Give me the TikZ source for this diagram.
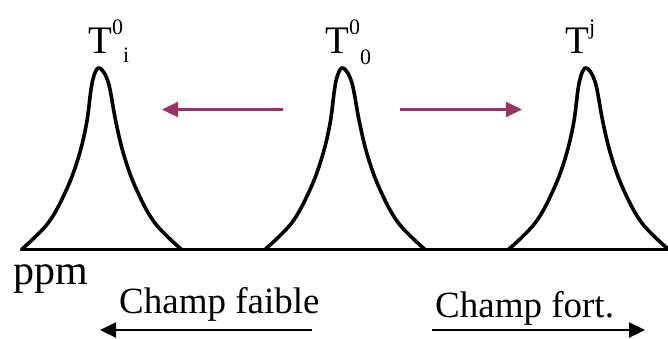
\documentclass[tikz,border=0pt]{standalone}
\usepackage{fontspec}
\setmainfont{Liberation Serif}
\usetikzlibrary{arrows.meta}
\definecolor{plum}{RGB}{153,51,102}
\newcommand\myscript{\fontsize{22}{22}\selectfont}
\begin{document}
\begin{tikzpicture}[x=1pt,y=-1pt,
  peak/.style={line width=3.6pt,line join=round,line cap=round},
  axisline/.style={line width=2.6pt},
  magarrow/.style={draw=plum,line width=2.2pt,-{Triangle[length=16pt,width=15pt]}},
  blkarrow/.style={draw=black,line width=2.2pt,-{Triangle[length=16pt,width=15pt]}},
  lbl/.style={inner sep=0pt,anchor=base west,font=\fontsize{37}{40}\selectfont},
  tlbl/.style={inner sep=0pt,anchor=base west,font=\fontsize{39}{42}\selectfont},
  biglbl/.style={inner sep=0pt,anchor=base west,font=\fontsize{42}{44}\selectfont}]
\useasboundingbox (0,0) rectangle (668,338);
% baseline
\coordinate (b0) at (21,249.5);
\coordinate (b1) at (668,249.5);
\draw[axisline] (b0) -- (b1);
% peaks
\foreach \c in {101.5,345,588.5}{
  \draw[peak,shift={(\c,249.5)}] plot[smooth,tension=0.6] coordinates {
    (-80,0) (-53,-27) (-34.5,-61) (-22.5,-94) (-14.8,-127) (-10.5,-160)
    (-7.5,-174) (-3.4,-181.5) (1,-179) (5,-172) (8.5,-160) (14.5,-127)
    (22.5,-94) (34.5,-61) (53,-27) (80,0)};
}
% peak labels
\node[tlbl] (t1) at (88,53) {T\raisebox{19pt}{\myscript 0}\raisebox{-9pt}{\myscript i}};
\node[tlbl] (t2) at (325,53) {T\raisebox{19pt}{\myscript 0}\raisebox{-11pt}{\myscript 0}};
\node[tlbl] (t3) at (565,53) {T\raisebox{19pt}{\myscript j}};
% magenta arrows
\coordinate (m1s) at (283,109.5);
\coordinate (m1e) at (162,109.5);
\coordinate (m2s) at (400,109.5);
\coordinate (m2e) at (522,109.5);
\draw[magarrow] (m1s) -- (m1e);
\draw[magarrow] (m2s) -- (m2e);
% bottom labels
\node[biglbl] (ppm) at (13,284) {ppm};
\node[lbl] (cf) at (119,313.5) {Champ faible};
\node[lbl] (cF) at (435,317) {Champ fort.};
% black arrows
\coordinate (k1s) at (312,330);
\coordinate (k1e) at (100,330);
\coordinate (k2s) at (432,330);
\coordinate (k2e) at (645,330);
\draw[blkarrow] (k1s) -- (k1e);
\draw[blkarrow] (k2s) -- (k2e);
\end{tikzpicture}
\end{document}
